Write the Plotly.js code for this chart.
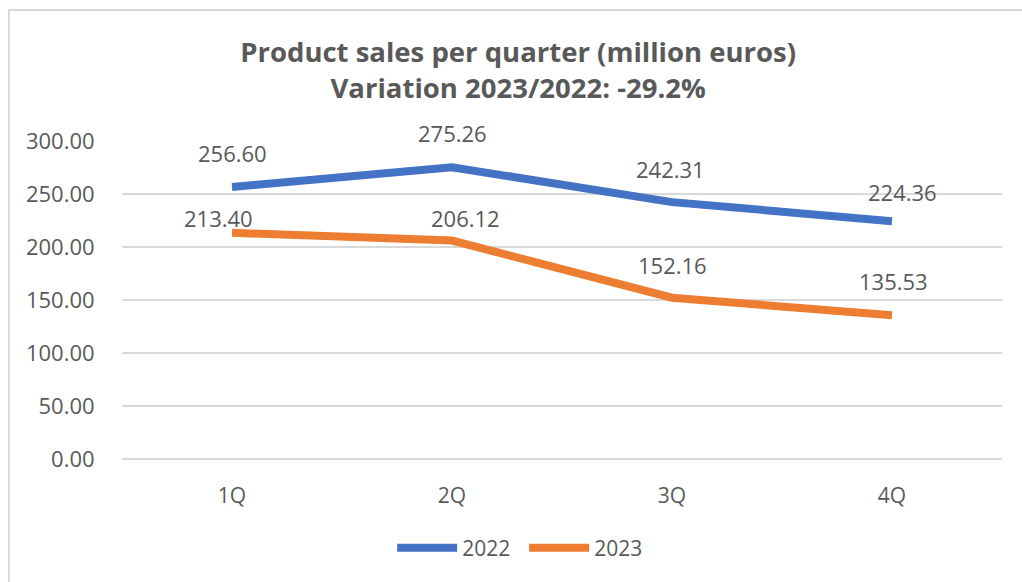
<!DOCTYPE html>
<html>
<head>
<meta charset="utf-8">
<script src="https://cdn.plot.ly/plotly-3.0.1.min.js"></script>
<style>
  html, body { margin: 0; padding: 0; background: #ffffff; }
  #wrap { position: relative; width: 1022px; height: 582px; overflow: hidden; }
  #chart { width: 1022px; height: 582px; }
  #frame { position: absolute; left: 8px; top: 9px; width: 1020px; height: 580px;
           border-top: 2px solid #d9d9d9; border-left: 2px solid #d9d9d9; pointer-events: none; }
</style>
</head>
<body>
<div id="wrap"><div id="chart"></div><div id="frame"></div></div>
<script>
// Data
const quarters = ["1Q", "2Q", "3Q", "4Q"];
const sales2022 = [256.60, 275.26, 242.31, 224.36];
const sales2023 = [213.40, 206.12, 152.16, 135.53];
const seriesNames = ["2022", "2023"];
const titleLines = ["Product sales per quarter (million euros)", "Variation 2023/2022: -29.2%"];

// Styling (label offsets in px, as placed in the reference)
const colors = ["#4472C4", "#ED7D31"];
const labelShift2022 = [[0, 34], [0, 34], [-2, 33], [10, 29]];
const labelShift2023 = [[-14, 15], [13, 23], [0, 33], [1, 34]];

const textColor = "#595959";
const fontFam = "'Open Sans', 'Noto Sans', sans-serif";

const traces = [sales2022, sales2023].map((vals, i) => ({
  type: "scatter",
  mode: "lines",
  x: quarters,
  y: vals,
  name: seriesNames[i],
  line: { color: colors[i], width: 8 },
  hoverinfo: "x+y"
}));

const annotations = [];
[[sales2022, labelShift2022], [sales2023, labelShift2023]].forEach(([vals, shifts]) => {
  vals.forEach((v, j) => {
    annotations.push({
      x: quarters[j], y: v, xref: "x", yref: "y",
      text: v.toFixed(2), showarrow: false,
      xanchor: "center", yanchor: "middle",
      xshift: shifts[j][0], yshift: shifts[j][1],
      font: { family: fontFam, size: 22, color: textColor }
    });
  });
});

const layout = {
  width: 1022, height: 582,
  margin: { l: 122, r: 20, t: 141, b: 123 },
  paper_bgcolor: "#ffffff", plot_bgcolor: "#ffffff",
  title: {
    text: "<b>" + titleLines.join("<br>") + "</b>",
    x: 0.507, xanchor: "center", y: 0.893, yanchor: "middle",
    font: { family: fontFam, size: 27.5, color: textColor }
  },
  xaxis: {
    type: "category", range: [-0.5, 3.5],
    showgrid: false, zeroline: false, showline: false,
    ticks: "outside", ticklen: 18, tickcolor: "rgba(0,0,0,0)",
    tickfont: { family: fontFam, size: 21, color: textColor },
    fixedrange: true
  },
  yaxis: {
    range: [0, 300], dtick: 50, tick0: 0, tickformat: ".2f",
    showgrid: true, gridcolor: "#d9d9d9", gridwidth: 1.5,
    zeroline: true, zerolinecolor: "#d9d9d9", zerolinewidth: 1.5,
    showline: false,
    ticks: "outside", ticklen: 22, tickcolor: "rgba(0,0,0,0)",
    tickfont: { family: fontFam, size: 22, color: textColor },
    fixedrange: true
  },
  showlegend: true,
  legend: {
    orientation: "h", x: 0.307, xanchor: "left", y: -0.28, yanchor: "middle",
    font: { family: fontFam, size: 21, color: textColor },
    itemwidth: 60, entrywidth: 57, entrywidthmode: "pixels",
    bgcolor: "rgba(0,0,0,0)"
  },
  annotations: annotations
};

Plotly.newPlot("chart", traces, layout, { displayModeBar: false, staticPlot: true });
</script>
</body>
</html>
